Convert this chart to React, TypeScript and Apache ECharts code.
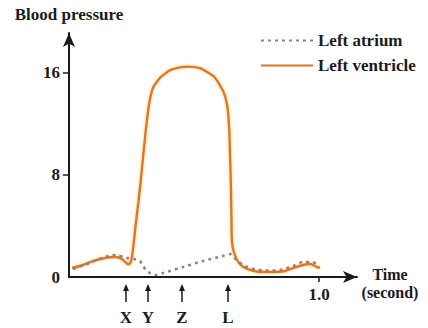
import React, { useEffect, useRef } from "react";
import * as echarts from "echarts";

const ventricleTime = [0.012, 0.044, 0.096, 0.144, 0.184, 0.212, 0.237, 0.244, 0.252, 0.268, 0.284, 0.304, 0.32, 0.336, 0.356, 0.376, 0.412, 0.472, 0.524, 0.556, 0.584, 0.604, 0.62, 0.632, 0.64, 0.644, 0.648, 0.65, 0.652, 0.66, 0.676, 0.696, 0.724, 0.764, 0.824, 0.864, 0.896, 0.936, 0.964, 0.992, 1.004];
const ventricleValue = [0.71, 0.86, 1.25, 1.49, 1.57, 1.41, 1.0, 1.05, 1.6, 4.3, 6.98, 10.9, 13.5, 14.8, 15.4, 15.8, 16.25, 16.47, 16.35, 16.0, 15.6, 15.0, 14.4, 13.5, 11.9, 9.6, 6.8, 4.3, 2.7, 1.9, 1.2, 0.8, 0.55, 0.39, 0.39, 0.47, 0.7, 0.94, 1.02, 0.78, 0.71];

const atriumTime = [0.016, 0.072, 0.132, 0.184, 0.232, 0.26, 0.284, 0.296, 0.308, 0.324, 0.344, 0.376, 0.456, 0.536, 0.616, 0.644, 0.672, 0.704, 0.744, 0.784, 0.844, 0.896, 0.936, 0.972, 0.996];
const atriumValue = [0.63, 1.02, 1.49, 1.73, 1.49, 1.41, 1.25, 0.86, 0.55, 0.31, 0.16, 0.31, 0.78, 1.25, 1.65, 1.8, 1.3, 0.85, 0.6, 0.5, 0.55, 0.86, 1.18, 1.18, 0.94];

const yTicks = [0, 8, 16];
const xTicks = [1.0];
const markerTimes = [0.228, 0.316, 0.452, 0.636];
const markerLabels = ["X", "Y", "Z", "L"];
const xTitleLines = ["Time", "(second)"];

const FONT = "Liberation Serif";
const INK = "#1a1a1a";

export default function App() {
  const ref = useRef<HTMLDivElement>(null);
  useEffect(() => {
    if (!ref.current) return;
    const chart = echarts.init(ref.current, undefined, { renderer: "svg" });
    const textStyle = { fontFamily: FONT, fontWeight: "bold" as const, fontSize: 17, color: INK };
    chart.setOption({
      animation: false,
      backgroundColor: "#ffffff",
      grid: { left: 69, right: 71, top: 33, bottom: 51 },
      legend: {
        orient: "vertical",
        left: 255,
        top: 27,
        itemWidth: 52,
        itemHeight: 14,
        itemGap: 8,
        textStyle,
        itemStyle: { opacity: 0, color: "transparent", borderWidth: 0 },
        data: ["Left atrium", "Left ventricle"],
      },
      xAxis: {
        type: "value",
        min: 0,
        max: 1.152,
        axisLine: {
          show: true,
          symbol: ["none", "arrow"],
          symbolSize: [9, 14],
          lineStyle: { color: INK, width: 2 },
        },
        axisTick: { show: true, customValues: xTicks, length: 5, lineStyle: { color: INK, width: 1.5 } },
        axisLabel: { customValues: xTicks, formatter: (v: number) => v.toFixed(1), margin: 9, ...textStyle },
        splitLine: { show: false },
      },
      yAxis: {
        type: "value",
        min: 0,
        max: 19.1,
        name: "Blood pressure",
        nameLocation: "end",
        nameGap: 10,
        nameTextStyle: { ...textStyle, align: "center" },
        axisLine: {
          show: true,
          symbol: ["none", "arrow"],
          symbolSize: [9, 14],
          lineStyle: { color: INK, width: 2 },
        },
        axisTick: { show: true, customValues: [8, 16], length: 6, lineStyle: { color: INK, width: 1.5 } },
        axisLabel: { customValues: yTicks, margin: 9, ...textStyle },
        splitLine: { show: false },
      },
      series: [
        {
          name: "Left ventricle",
          type: "line",
          symbol: "none",
          smooth: 0.3,
          data: ventricleTime.map((t, i) => [t, ventricleValue[i]]),
          lineStyle: {
            color: "#df7628",
            width: 2.4,
            shadowColor: "rgba(250,200,90,0.8)",
            shadowBlur: 3,
          },
          itemStyle: { color: "#df7628" },
          z: 2,
        },
        {
          name: "Left atrium",
          type: "line",
          symbol: "none",
          smooth: 0.25,
          data: atriumTime.map((t, i) => [t, atriumValue[i]]),
          lineStyle: { color: "#9a7d80", width: 2.5, type: [3, 4] },
          itemStyle: { color: "#c08a6a" },
          z: 3,
        },
      ],
    });

    const baseY = chart.convertToPixel({ yAxisIndex: 0 }, 0) as number;
    const axisEndX = chart.convertToPixel({ xAxisIndex: 0 }, 1.152) as number;
    const graphics: any[] = [];
    markerTimes.forEach((t, i) => {
      const x = chart.convertToPixel({ xAxisIndex: 0 }, t) as number;
      graphics.push({
        type: "line",
        shape: { x1: x, y1: baseY + 25, x2: x, y2: baseY + 12 },
        style: { stroke: INK, lineWidth: 1.5 },
      });
      graphics.push({
        type: "polygon",
        shape: { points: [[x - 3, baseY + 14], [x + 3, baseY + 14], [x, baseY + 7]] },
        style: { fill: INK },
      });
      graphics.push({
        type: "text",
        x,
        y: baseY + 40,
        style: {
          text: markerLabels[i],
          font: `bold 17px "${FONT}"`,
          fill: INK,
          textAlign: "center",
          textVerticalAlign: "middle",
        },
      });
    });
    xTitleLines.forEach((line, i) => {
      graphics.push({
        type: "text",
        x: axisEndX + 33,
        y: baseY - 3 + i * 18,
        style: {
          text: line,
          font: `bold 16px "${FONT}"`,
          fill: INK,
          textAlign: "center",
          textVerticalAlign: "middle",
        },
      });
    });
    chart.setOption({ graphic: graphics });

    return () => chart.dispose();
  }, []);
  return <div ref={ref} style={{ width: 428, height: 328, position: "absolute", left: 0, top: 0 }} />;
}
